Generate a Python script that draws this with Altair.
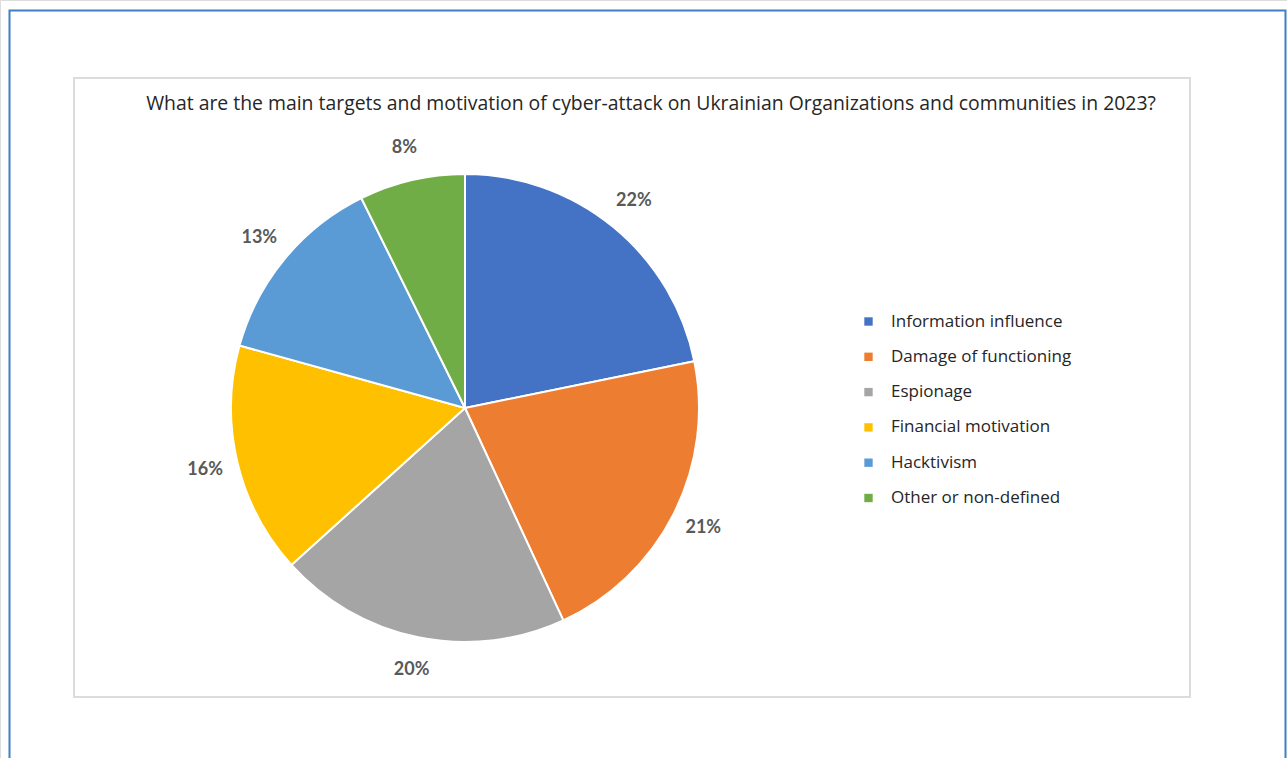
import altair as alt
import pandas as pd

categories = ["Information influence", "Damage of functioning", "Espionage",
              "Financial motivation", "Hacktivism", "Other or non-defined"]
shares = [21.8, 21.3, 20.2, 16.0, 13.4, 7.3]
share_labels = ["22%", "21%", "20%", "16%", "13%", "8%"]
colors = ["#4472C4", "#ED7D31", "#A5A5A5", "#FFC000", "#5B9BD5", "#70AD47"]
title_text = ("What are the main targets and motivation of cyber-attack on "
              "Ukrainian Organizations and communities in 2023?")

df = pd.DataFrame({"category": categories, "share": shares, "label": share_labels,
                   "rank": list(range(len(shares)))})

one = pd.DataFrame({"t": [title_text]})

outer = alt.Chart(one).mark_rect(fill="white", stroke="#3F7FC6", strokeWidth=2).encode(
    x=alt.value(9.5), x2=alt.value(1285.5), y=alt.value(10.5), y2=alt.value(800))
inner = alt.Chart(one).mark_rect(fill="white", stroke="#DCDCDC", strokeWidth=2).encode(
    x=alt.value(74), x2=alt.value(1190), y=alt.value(78), y2=alt.value(697))
title = alt.Chart(one).mark_text(font="Open Sans", fontSize=19.4, color="#262626",
                                 align="center", baseline="middle").encode(
    x=alt.value(651), y=alt.value(104), text="t:N")

base = alt.Chart(df).encode(
    theta=alt.Theta("share:Q", stack=True),
    order=alt.Order("rank:Q", sort="ascending"),
)
pie = base.mark_arc(outerRadius=234, stroke="white", strokeWidth=2).encode(
    x=alt.value(465), y=alt.value(408),
    color=alt.Color("category:N", scale=alt.Scale(domain=categories, range=colors),
                    legend=alt.Legend(title=None, orient="none", legendX=860, legendY=313,
                                      symbolType="square", symbolSize=70, symbolStrokeWidth=0,
                                      labelFont="Open Sans", labelFontSize=17, labelColor="#262626",
                                      labelOffset=14, rowPadding=17.3, labelLimit=400)),
)
labels = base.mark_text(radius=267, font="Lato", fontWeight="bold", fontSize=18,
                        color="#595959", align="center", baseline="middle").encode(
    x=alt.value(465), y=alt.value(408), text="label:N")

chart = alt.layer(outer, inner, title, pie, labels).properties(
    width=1287, height=758, padding=0, autosize=alt.AutoSizeParams(type="none")
).configure_view(stroke=None).configure(background="white")

chart.save("out.html", embed_options={"renderer": "svg", "actions": False})
